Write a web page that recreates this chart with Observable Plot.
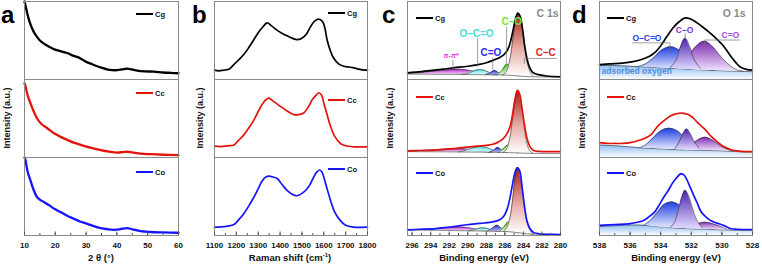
<!DOCTYPE html>
<html><head><meta charset="utf-8">
<script src="https://cdn.jsdelivr.net/npm/d3@7"></script>
<script src="https://cdn.jsdelivr.net/npm/@observablehq/plot@0.6"></script>
<style>
body{margin:0;background:#fff;}
#fig{position:relative;width:762px;height:266px;overflow:hidden;font-family:"Liberation Sans",Arial,sans-serif;font-weight:bold;color:#111;}
.letter{position:absolute;top:1px;font-size:24px;line-height:1.2;font-weight:bold;color:#000;}
.ylab{position:absolute;top:118px;font-size:9px;white-space:nowrap;transform:translate(-50%,-50%) rotate(-90deg);}
.xlab{position:absolute;top:252px;font-size:9.5px;white-space:nowrap;transform:translateX(-50%);}
.xlab sup{font-size:6px;}
.leg{position:absolute;height:10px;font-size:7.5px;white-space:nowrap;display:flex;align-items:center;}
.leg i{display:inline-block;width:17px;height:2px;margin-right:2px;}
</style>
</head><body>
<svg width="0" height="0" style="position:absolute"><defs>
<linearGradient id="gCC" x1="0" y1="0" x2="0" y2="1"><stop offset="0" stop-color="#a81818"/><stop offset="0.55" stop-color="#e6aaa2"/><stop offset="1" stop-color="#ffffff"/></linearGradient>
<linearGradient id="gCO" x1="0" y1="0" x2="0" y2="1"><stop offset="0" stop-color="#44c41e"/><stop offset="1" stop-color="#dcffd0"/></linearGradient>
<linearGradient id="gCdO" x1="0" y1="0" x2="0" y2="1"><stop offset="0" stop-color="#2222c8"/><stop offset="1" stop-color="#b4b4ff"/></linearGradient>
<linearGradient id="gOCO" x1="0" y1="0" x2="0" y2="1"><stop offset="0" stop-color="#50dede"/><stop offset="1" stop-color="#dcffff"/></linearGradient>
<linearGradient id="gPi" x1="0" y1="0" x2="0" y2="1"><stop offset="0" stop-color="#b020c8"/><stop offset="1" stop-color="#f8d4f8"/></linearGradient>
<linearGradient id="oOCO" x1="0" y1="0" x2="0" y2="1"><stop offset="0" stop-color="#1e3ce0"/><stop offset="1" stop-color="#eaeeff"/></linearGradient>
<linearGradient id="oCO" x1="0" y1="0" x2="0" y2="1"><stop offset="0" stop-color="#4a20b0"/><stop offset="1" stop-color="#e2dbff"/></linearGradient>
<linearGradient id="oCdO" x1="0" y1="0" x2="0" y2="1"><stop offset="0" stop-color="#7a28b0"/><stop offset="1" stop-color="#f2e4ff"/></linearGradient>
<linearGradient id="oAds" x1="0" y1="0" x2="0" y2="1"><stop offset="0" stop-color="#8cbcf2"/><stop offset="1" stop-color="#fafcff"/></linearGradient>
</defs></svg>
<div id="fig"></div>
<script>
// ---------- categories ----------
const samples = ["Cg", "Cc", "Co"];

// ---------- tick labels ----------
const ticksA = [10, 20, 30, 40, 50, 60];
const minorA = [10, 15, 20, 25, 30, 35, 40, 45, 50, 55, 60];
const ticksB = [1100, 1200, 1300, 1400, 1500, 1600, 1700, 1800];
const minorB = [1100, 1150, 1200, 1250, 1300, 1350, 1400, 1450, 1500, 1550, 1600, 1650, 1700, 1750, 1800];
const ticksC = [296, 294, 292, 290, 288, 286, 284, 282, 280];
const minorC = [296, 295, 294, 293, 292, 291, 290, 289, 288, 287, 286, 285, 284, 283, 282, 281, 280];
const ticksD = [538, 536, 534, 532, 530, 528];
const minorD = [538, 537, 536, 535, 534, 533, 532, 531, 530, 529, 528];

// ---------- (a) XRD: [2θ, normalized intensity] ----------
const xrdCg = [[10,1.0],[10.6,0.9],[11.2,0.8],[12,0.7],[13,0.61],[14,0.55],[15,0.5],[16.3,0.46],[18,0.42],[19.5,0.39],[21.5,0.365],[23.9,0.34],[25.5,0.31],[27.1,0.29],[29,0.25],[30.4,0.22],[32,0.195],[33.6,0.17],[35.2,0.15],[36.8,0.13],[38.5,0.12],[40.1,0.12],[41.7,0.13],[43.3,0.14],[44.8,0.13],[46.6,0.115],[49,0.105],[52,0.1],[55,0.09],[57.5,0.085],[60,0.08]];
const xrdCc = [[10,0.95],[10.3,0.92],[11,0.8],[11.9,0.7],[13,0.59],[14.1,0.5],[15.5,0.43],[17.4,0.375],[20,0.3],[22.8,0.245],[26,0.19],[29.3,0.15],[32,0.12],[34.7,0.095],[37.5,0.075],[40.1,0.063],[42,0.07],[43.3,0.074],[45,0.065],[47.7,0.05],[51,0.042],[55,0.035],[60,0.03]];
const xrdCo = [[10,1.0],[10.3,0.97],[11,0.82],[11.9,0.71],[13,0.58],[14.1,0.49],[15.3,0.45],[16.3,0.43],[17.9,0.39],[19.8,0.34],[21.7,0.3],[24,0.25],[26,0.215],[28,0.18],[30.4,0.15],[32.5,0.12],[34.7,0.095],[37,0.08],[39,0.073],[41,0.08],[43.3,0.095],[45,0.08],[47.7,0.055],[51,0.045],[55,0.04],[60,0.035]];

// ---------- (b) Raman: [shift, normalized intensity] ----------
const ramanCg = [[1100,0.12],[1120,0.11],[1143,0.12],[1165,0.13],[1188,0.19],[1210,0.25],[1234,0.32],[1257,0.41],[1280,0.51],[1300,0.6],[1320,0.67],[1341,0.725],[1360,0.69],[1387,0.63],[1410,0.59],[1432,0.56],[1455,0.53],[1478,0.51],[1500,0.53],[1520,0.58],[1539,0.675],[1555,0.74],[1569,0.77],[1582,0.77],[1595,0.74],[1605,0.66],[1615,0.51],[1630,0.37],[1645,0.275],[1668,0.2],[1691,0.17],[1714,0.16],[1737,0.15],[1765,0.13],[1790,0.12],[1800,0.12]];
const ramanCc = [[1100,0.146],[1130,0.14],[1160,0.15],[1189,0.16],[1210,0.22],[1234,0.29],[1257,0.38],[1280,0.48],[1300,0.59],[1318,0.68],[1335,0.74],[1349,0.76],[1370,0.72],[1402,0.655],[1430,0.6],[1463,0.55],[1485,0.55],[1508,0.57],[1530,0.65],[1547,0.74],[1565,0.8],[1577,0.83],[1590,0.8],[1600,0.7],[1615,0.55],[1631,0.4],[1650,0.27],[1676,0.18],[1700,0.15],[1737,0.137],[1770,0.135],[1800,0.137]];
const ramanCo = [[1100,0.107],[1130,0.11],[1160,0.12],[1189,0.14],[1210,0.2],[1234,0.28],[1257,0.38],[1280,0.49],[1300,0.6],[1318,0.7],[1335,0.75],[1349,0.76],[1368,0.75],[1387,0.73],[1410,0.65],[1432,0.58],[1455,0.53],[1478,0.51],[1500,0.54],[1524,0.6],[1540,0.67],[1554,0.75],[1567,0.81],[1580,0.84],[1590,0.82],[1600,0.75],[1615,0.6],[1631,0.45],[1650,0.3],[1676,0.19],[1700,0.13],[1737,0.107],[1770,0.105],[1800,0.107]];

// ---------- (c) C 1s: envelopes [E, v], baselines [E, v], components [E, low, high] ----------
const c1sCgEnv = [[296.5,.085],[295,.1],[293.6,.12],[292.5,.135],[291.5,.15],[290,.17],[288.9,.19],[288,.215],[287.2,.25],[286.6,.28],[286.1,.32],[285.7,.38],[285.4,.48],[285.1,.64],[284.85,.78],[284.6,.85],[284.35,.81],[284.1,.65],[283.85,.42],[283.6,.26],[283.35,.16],[283,.09],[282.5,.065],[281.5,.045],[280,.035]];
const c1sCcEnv = [[296.5,.085],[295,.09],[293.6,.095],[292.5,.105],[291.5,.115],[290.3,.13],[289,.145],[288,.155],[287.3,.17],[286.7,.2],[286.2,.24],[285.8,.3],[285.45,.39],[285.15,.57],[284.9,.75],[284.65,.86],[284.4,.81],[284.15,.63],[283.9,.43],[283.6,.24],[283.3,.14],[282.9,.09],[282.3,.078],[281,.075],[280,.075]];
const c1sCoEnv = [[296.5,.073],[295,.08],[293.6,.086],[292.5,.1],[291.5,.115],[290.3,.135],[289.2,.15],[288.2,.16],[287.3,.175],[286.6,.2],[286.1,.25],[285.75,.34],[285.45,.48],[285.2,.64],[284.9,.81],[284.65,.87],[284.4,.83],[284.15,.63],[283.9,.39],[283.6,.18],[283.3,.09],[282.9,.04],[282.3,.022],[281,.015],[280,.013]];

const c1sCgBase = [[296.5,.07],[293,.067],[290,.064],[288,.061],[286.5,.058],[285.5,.054],[284.6,.046],[284,.04],[283,.035],[281.5,.032],[280,.03]];
const c1sCcBase = [[296.5,.075],[293,.073],[290,.07],[288,.068],[286.5,.065],[285.5,.062],[284.6,.058],[284,.056],[283,.053],[281.5,.052],[280,.05]];
const c1sCoBase = [[296.5,.07],[293,.066],[290,.06],[288,.056],[286.5,.052],[285.5,.048],[284.6,.036],[284,.028],[283,.018],[281.5,.015],[280,.013]];

const c1sCgPi  = [[296.5,.07,.075],[295,.068,.09],[293.5,.067,.11],[292,.066,.125],[291,.065,.13],[290,.064,.12],[289,.063,.095],[288,.062,.07],[287,.06,.06]];
const c1sCgOCO = [[290.6,.064,.064],[290,.064,.078],[289.3,.063,.112],[288.7,.062,.127],[288.1,.061,.112],[287.4,.06,.075],[286.9,.06,.06]];
const c1sCgCdO = [[288.1,.061,.061],[287.6,.06,.082],[287.1,.059,.114],[286.6,.058,.082],[286.1,.057,.058]];
const c1sCgCO  = [[286.9,.058,.058],[286.35,.057,.11],[285.75,.055,.195],[285.15,.052,.11],[284.6,.046,.048]];
const c1sCgCC  = [[286.2,.056,.057],[285.85,.055,.1],[285.5,.053,.23],[285.2,.051,.46],[284.88,.048,.73],[284.55,.046,.85],[284.22,.043,.73],[283.9,.04,.46],[283.6,.038,.22],[283.25,.036,.09],[282.9,.035,.04]];

const c1sCcPi  = [[296.5,.075,.08],[295,.074,.09],[293.5,.073,.1],[292,.072,.11],[291,.071,.112],[290,.07,.105],[289,.069,.09],[288,.068,.072],[287.3,.067,.067]];
const c1sCcOCO = [[291,.071,.071],[290.3,.07,.09],[289.6,.07,.118],[289,.069,.135],[288.4,.068,.138],[287.8,.067,.12],[287.2,.066,.09],[286.6,.065,.068]];
const c1sCcCdO = [[287.7,.067,.067],[287.2,.066,.092],[286.75,.065,.127],[286.3,.064,.092],[285.8,.063,.065]];
const c1sCcCO  = [[286.7,.065,.065],[286.2,.064,.11],[285.6,.062,.165],[285.05,.06,.1],[284.6,.058,.06]];
const c1sCcCC  = [[286.2,.064,.065],[285.85,.063,.1],[285.5,.062,.23],[285.2,.06,.46],[284.9,.059,.73],[284.6,.058,.86],[284.3,.057,.73],[284,.056,.46],[283.7,.055,.22],[283.35,.054,.09],[283,.053,.055]];

const c1sCoPi  = [[296.5,.07,.072],[295,.068,.08],[293.5,.066,.09],[292,.064,.105],[291,.062,.11],[290,.06,.1],[289,.058,.08],[288,.056,.058]];
const c1sCoOCO = [[289.9,.059,.06],[289.2,.058,.077],[288.6,.057,.097],[288,.056,.092],[287.4,.055,.07],[286.8,.054,.055]];
const c1sCoCdO = [[287.9,.055,.056],[287.35,.054,.092],[286.85,.053,.132],[286.35,.052,.092],[285.8,.05,.055]];
const c1sCoCO  = [[286.6,.052,.053],[286.1,.05,.11],[285.6,.048,.175],[285.1,.045,.11],[284.6,.038,.04]];
const c1sCoCC  = [[286.15,.05,.052],[285.8,.049,.1],[285.45,.047,.23],[285.15,.045,.47],[284.88,.04,.75],[284.6,.036,.87],[284.32,.032,.75],[284,.028,.46],[283.7,.024,.21],[283.35,.02,.08],[283,.018,.025]];

// ---------- (d) O 1s ----------
const o1sCgEnv = [[538,.19],[537.3,.2],[536.5,.21],[535.8,.23],[535.2,.26],[534.7,.3],[534.3,.36],[533.9,.46],[533.6,.55],[533.2,.66],[532.8,.74],[532.4,.79],[532.1,.78],[531.8,.75],[531.3,.68],[530.8,.6],[530.4,.53],[529.9,.43],[529.5,.32],[529.1,.22],[528.8,.16],[528.4,.13],[528,.12]];
const o1sCcEnv = [[538,.19],[537.5,.18],[537,.18],[536.5,.18],[536,.19],[535.5,.215],[535,.25],[534.6,.3],[534.2,.4],[533.8,.47],[533.4,.53],[533,.56],[532.6,.57],[532.2,.55],[531.9,.51],[531.5,.43],[531.1,.36],[530.7,.27],[530.3,.2],[529.9,.14],[529.4,.1],[529,.085],[528.5,.075],[528,.075]];
const o1sCoEnv = [[538,.13],[537,.14],[536.1,.15],[535.5,.17],[535.05,.2],[534.7,.25],[534.4,.3],[534.1,.39],[533.8,.49],[533.5,.58],[533.25,.665],[533,.73],[532.7,.79],[532.5,.78],[532.3,.72],[532.1,.63],[531.9,.54],[531.6,.41],[531.35,.3],[531,.23],[530.7,.19],[530.2,.15],[529.9,.13],[529.4,.086],[529,.08],[528.3,.077],[528,.077]];

const o1sCgAds = [[538,.18],[537,.178],[536,.17],[535,.16],[534,.15],[533,.14],[532,.13],[531,.12],[530,.112],[529,.106],[528,.1]];
const o1sCcAds = [[538,.16],[537,.15],[536,.135],[535,.12],[534,.11],[533,.1],[532,.095],[531,.09],[530,.085],[529,.075],[528,.07]];
const o1sCoAds = [[538,.115],[537,.125],[536,.135],[535,.13],[534,.11],[533,.095],[532,.085],[531,.08],[530,.072],[529,.066],[528,.062]];

const o1sCgOCO = [[535.6,.16,.162],[535,.158,.2],[534.4,.15,.29],[533.9,.145,.38],[533.35,.14,.42],[532.8,.135,.38],[532.2,.13,.29],[531.6,.122,.2],[531,.118,.135],[530.5,.114,.116]];
const o1sCgCO  = [[533.4,.14,.145],[533,.137,.25],[532.7,.134,.42],[532.4,.13,.53],[532.1,.127,.42],[531.8,.124,.25],[531.4,.12,.14]];
const o1sCgCdO = [[533.2,.14,.142],[532.7,.134,.2],[532.2,.128,.3],[531.7,.123,.42],[531.15,.118,.49],[530.6,.114,.42],[530.1,.11,.3],[529.6,.107,.2],[529.1,.104,.13],[528.6,.102,.105]];

const o1sCcOCO = [[535.4,.12,.122],[535,.12,.16],[534.5,.115,.25],[534,.11,.34],[533.45,.105,.375],[532.9,.1,.34],[532.4,.097,.25],[531.9,.094,.16],[531.4,.092,.11]];
const o1sCcCO  = [[533.1,.1,.105],[532.8,.098,.2],[532.55,.096,.3],[532.3,.095,.365],[532.05,.094,.3],[531.8,.093,.2],[531.5,.092,.12]];
const o1sCcCdO = [[532.6,.097,.1],[532.1,.094,.15],[531.6,.091,.22],[531.1,.089,.26],[530.6,.087,.22],[530.1,.085,.15],[529.6,.08,.1],[529.2,.077,.08]];

const o1sCoOCO = [[535.1,.13,.132],[534.7,.12,.19],[534.2,.11,.3],[533.75,.1,.4],[533.3,.095,.43],[532.85,.092,.4],[532.4,.088,.3],[531.9,.085,.19],[531.5,.083,.12]];
const o1sCoCO  = [[533.4,.095,.098],[533.1,.093,.17],[532.8,.091,.36],[532.6,.089,.5],[532.4,.088,.58],[532.2,.087,.52],[531.95,.085,.37],[531.65,.083,.2],[531.3,.081,.1]];
const o1sCoCdO = [[532.5,.088,.09],[532,.086,.12],[531.5,.083,.155],[531.1,.08,.17],[530.6,.076,.15],[530.1,.072,.115],[529.7,.069,.08]];

// ---------- annotation texts ----------
const c1sLabels = [
  {E: 291.8, v: 0.30, text: "π-π*"},
  {E: 289.06, v: 0.59, text: "O–C=O"},
  {E: 287.5, v: 0.34, text: "C=O"},
  {E: 285.25, v: 0.74, text: "C–O"},
  {E: 281.6, v: 0.34, text: "C–C"},
  {E: 281.4, v: 0.85, text: "C 1s"}
];
const c1sLeaders = [
  {x1: 291.6, y1: .25, x2: 291.6, y2: .13},
  {x1: 288.94, y1: .53, x2: 288.94, y2: .165},
  {x1: 287.3, y1: .28, x2: 287.3, y2: .127},
  {x1: 285.8, y1: .68, x2: 285.85, y2: .2},
  {x1: 283.9, y1: .27, x2: 280.4, y2: .27},
  {x1: 283.9, y1: .27, x2: 283.9, y2: .2}
];
const o1sLabels = [
  {E: 534.9, v: 0.53, text: "O–C=O"},
  {E: 532.44, v: 0.63, text: "C–O"},
  {E: 529.44, v: 0.57, text: "C=O"},
  {E: 529.2, v: 0.85, text: "O 1s"},
  {E: 537.87, v: 0.105, text: "adsorbed oxygen"}
];
const o1sLeaders = [
  {x1: 535.85, y1: .47, x2: 533.4, y2: .47},
  {x1: 533.4, y1: .47, x2: 533.4, y2: .36},
  {x1: 532.4, y1: .595, x2: 532.4, y2: .53},
  {x1: 531.14, y1: .506, x2: 528.8, y2: .506},
  {x1: 531.14, y1: .506, x2: 531.14, y2: .43}
];

// ---------- styles ----------
const lineColor = {Cg: "#000000", Cc: "#e3120b", Co: "#1414ff"};
const c1sLabelStyle = [
  {fill: "#e040e0", size: 7, italic: true},
  {fill: "#4cdcdc", size: 10},
  {fill: "#2a2ae6", size: 10},
  {fill: "#6ee636", size: 10},
  {fill: "#e62222", size: 10},
  {fill: "#8a8a8a", size: 10.5}
];
const o1sLabelStyle = [
  {fill: "#2b3fe6", size: 8.5},
  {fill: "#7a35d8", size: 8.5},
  {fill: "#a848e0", size: 8.5},
  {fill: "#8a8a8a", size: 10.5},
  {fill: "#4f8fe2", size: 8.5, anchor: "start"}
];

const fig = document.getElementById("fig");
const FONT = "'Liberation Sans', Arial, sans-serif";
const r2 = (arr, s) => arr.map(([x, v]) => ({x, v, s}));
const r3 = (arr, s) => arr.map(([x, lo, hi]) => ({x, lo, hi, s}));
const curve = "catmull-rom";

function series(map, width) {
  return samples.map(s => Plot.line(r2(map[s], s), {x: "x", y: "v", fy: "s", stroke: lineColor[s], strokeWidth: width, curve}));
}
function comp(arr, s, grad) {
  const d = r3(arr, s);
  return [
    Plot.areaY(d, {x: "x", y1: "lo", y2: "hi", fy: "s", fill: `url(#${grad})`, curve}),
    Plot.line(d, {x: "x", y: "hi", fy: "s", stroke: "#333", strokeWidth: 0.6, curve})
  ];
}
function ads(arr, s) {
  const d = r2(arr, s);
  return [
    Plot.areaY(d, {x: "x", y1: () => 0, y2: "v", fy: "s", fill: "url(#oAds)", curve}),
    Plot.line(d, {x: "x", y: "v", fy: "s", stroke: "#333", strokeWidth: 0.6, curve})
  ];
}
function baseLine(arr, s) {
  return Plot.line(r2(arr, s), {x: "x", y: "v", fy: "s", stroke: "#333", strokeWidth: 0.6, curve});
}
function labels(list, styles) {
  return list.map((a, i) => Plot.text([a], {
    x: "E", y: "v", text: "text", fy: () => "Cg",
    fill: styles[i].fill, fontSize: styles[i].size, fontWeight: "bold",
    fontStyle: styles[i].italic ? "italic" : "normal",
    textAnchor: styles[i].anchor || "middle", fontFamily: FONT
  }));
}
function leaders(list) {
  return Plot.link(list, {x1: "x1", y1: "y1", x2: "x2", y2: "y2", fy: () => "Cg", stroke: "#777", strokeWidth: 0.7});
}

function panel({left, width, mL, mR, domain, major, minor, marks}) {
  const svg = Plot.plot({
    width, height: 266, marginLeft: mL, marginRight: mR, marginTop: 1, marginBottom: 31,
    x: {domain},
    y: {domain: [0, 1], axis: null},
    fy: {domain: samples, padding: 0, axis: null},
    style: {fontFamily: FONT, fontWeight: "bold", fontSize: "8px", background: "transparent", overflow: "visible", color: "#111"},
    marks: [
      ...marks,
      Plot.frame({stroke: "#8a8a8a", strokeWidth: 1}),
      Plot.axisX(minor, {tickSize: -2, tickFormat: () => "", label: null, stroke: "#555"}),
      Plot.axisX(major, {tickSize: -3.5, tickPadding: 10.5, tickFormat: d => String(d), label: null, stroke: "#555", fill: "#111", fontSize: 8, fontWeight: "bold"})
    ]
  });
  svg.style.position = "absolute";
  svg.style.left = left + "px";
  svg.style.top = "0px";
  fig.appendChild(svg);
}

panel({left: 0, width: 190, mL: 24, mR: 12, domain: [10, 60], major: ticksA, minor: minorA,
  marks: series({Cg: xrdCg, Cc: xrdCc, Co: xrdCo}, 2.3)});

panel({left: 190, width: 190, mL: 24, mR: 13, domain: [1100, 1800], major: ticksB, minor: minorB,
  marks: series({Cg: ramanCg, Cc: ramanCc, Co: ramanCo}, 1.7)});

const c1s = {
  Cg: {pi: c1sCgPi, oco: c1sCgOCO, cdo: c1sCgCdO, co: c1sCgCO, cc: c1sCgCC, base: c1sCgBase},
  Cc: {pi: c1sCcPi, oco: c1sCcOCO, cdo: c1sCcCdO, co: c1sCcCO, cc: c1sCcCC, base: c1sCcBase},
  Co: {pi: c1sCoPi, oco: c1sCoOCO, cdo: c1sCoCdO, co: c1sCoCO, cc: c1sCoCC, base: c1sCoBase}
};
const c1sMarks = [];
for (const s of samples) {
  const g = c1s[s];
  c1sMarks.push(...comp(g.pi, s, "gPi"), ...comp(g.oco, s, "gOCO"), ...comp(g.cdo, s, "gCdO"), ...comp(g.co, s, "gCO"), ...comp(g.cc, s, "gCC"), baseLine(g.base, s));
}
c1sMarks.push(...series({Cg: c1sCgEnv, Cc: c1sCcEnv, Co: c1sCoEnv}, 1.7), leaders(c1sLeaders), ...labels(c1sLabels, c1sLabelStyle));
panel({left: 380, width: 190, mL: 27, mR: 10, domain: [296.5, 280], major: ticksC, minor: minorC, marks: c1sMarks});

const o1s = {
  Cg: {ads: o1sCgAds, oco: o1sCgOCO, co: o1sCgCO, cdo: o1sCgCdO},
  Cc: {ads: o1sCcAds, oco: o1sCcOCO, co: o1sCcCO, cdo: o1sCcCdO},
  Co: {ads: o1sCoAds, oco: o1sCoOCO, co: o1sCoCO, cdo: o1sCoCdO}
};
const o1sMarks = [];
for (const s of samples) {
  const g = o1s[s];
  o1sMarks.push(...ads(g.ads, s), ...comp(g.oco, s, "oOCO"), ...comp(g.cdo, s, "oCdO"), ...comp(g.co, s, "oCO"));
}
o1sMarks.push(...series({Cg: o1sCgEnv, Cc: o1sCcEnv, Co: o1sCoEnv}, 1.7), leaders(o1sLeaders), ...labels(o1sLabels, o1sLabelStyle));
panel({left: 570, width: 192, mL: 29, mR: 10, domain: [538, 528], major: ticksD, minor: minorD, marks: o1sMarks});

// ---------- HTML text: panel letters, axis titles, legends ----------
function add(html, cls, style) {
  const el = document.createElement("div");
  el.className = cls; el.innerHTML = html;
  Object.assign(el.style, style);
  fig.appendChild(el);
}
[["a", 1], ["b", 192], ["c", 382], ["d", 572]].forEach(([t, x]) => add(t, "letter", {left: x + "px"}));
[7, 200, 390, 582].forEach(x => add("Intensity (a.u.)", "ylab", {left: x + "px"}));
add("2 θ (°)", "xlab", {left: "101px"});
add("Raman shift (cm<sup>-1</sup>)", "xlab", {left: "290px"});
add("Binding energy (eV)", "xlab", {left: "484px"});
add("Binding energy (eV)", "xlab", {left: "676px"});
const legendPos = [
  {x: 136, ys: [14, 93, 172]},
  {x: 328, ys: [13, 100, 169]},
  {x: 416, ys: [18, 97, 173]},
  {x: 607, ys: [18, 97, 173]}
];
legendPos.forEach(p => samples.forEach((s, i) => add(`<i style="background:${lineColor[s]}"></i>${s}`, "leg", {left: p.x + "px", top: (p.ys[i] - 5) + "px"})));
</script>
</body></html>
